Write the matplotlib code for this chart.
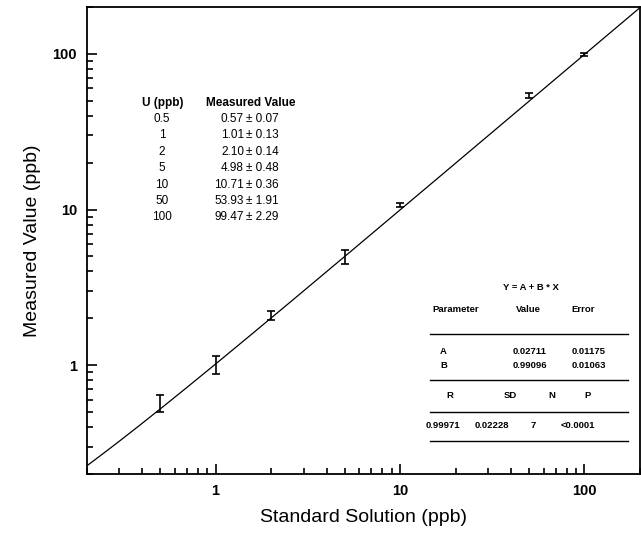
import matplotlib
matplotlib.use("Agg")
import matplotlib.pyplot as plt
import numpy as np

plt.rcParams['font.family'] = ['Liberation Sans', 'DejaVu Sans']

# standard solution concentration (ppb) and measured values
standard = [0.5, 1, 2, 5, 10, 50, 100]
measured = [0.57, 1.01, 2.10, 4.98, 10.71, 53.93, 99.47]
errors = [0.07, 0.13, 0.14, 0.48, 0.36, 1.91, 2.29]

std_labels = ["0.5", "1", "2", "5", "10", "50", "100"]
meas_labels = ["0.57", "1.01", "2.10", "4.98", "10.71", "53.93", "99.47"]
err_labels = ["0.07", "0.13", "0.14", "0.48", "0.36", "1.91", "2.29"]

# linear fit Y = A + B * X
fit_A = 0.02711
fit_B = 0.99096
fit_params = [["A", "0.02711", "0.01175"], ["B", "0.99096", "0.01063"]]
fit_stats = ["0.99971", "0.02228", "7", "<0.0001"]

W, H = 641, 537
fig = plt.figure(figsize=(W / 100, H / 100), dpi=100)
ax = fig.add_axes([86.7 / W, 1 - 474 / H, (640 - 86.7) / W, (474 - 7) / H])


def px(x, y):
    # pixel position in the picture -> figure fraction
    return x / W, 1 - y / H


xs = np.logspace(np.log10(0.2), np.log10(200), 200)
ax.plot(xs, fit_A + fit_B * xs, color="black", lw=0.9)
ax.errorbar(standard, measured, yerr=errors, fmt="none", ecolor="black",
            elinewidth=1.2, capsize=3, capthick=1.2)

ax.set_xscale("log")
ax.set_yscale("log")
ax.set_xlim(0.2, 200)
ax.set_ylim(0.2, 200)
ax.set_xticks([1, 10, 100])
ax.set_xticklabels(["1", "10", "100"])
ax.set_yticks([1, 10, 100])
ax.set_yticklabels(["1", "10", "100"])
ax.tick_params(which="both", direction="in", top=False, right=False, width=1.2)
ax.tick_params(which="major", length=7, labelsize=10.5, pad=7)
ax.tick_params(which="minor", length=4)
for lab in ax.get_xticklabels() + ax.get_yticklabels():
    lab.set_fontweight("bold")
for s in ax.spines.values():
    s.set_linewidth(1.3)

ax.set_xlabel("Standard Solution (ppb)", fontsize=14, labelpad=8)
ax.set_ylabel("Measured Value (ppb)", fontsize=14, labelpad=8)

# left table of measured values
fs = 8.5
fig.text(*px(163, 103), "U (ppb)", ha="center", va="center", fontsize=fs, fontweight="bold")
fig.text(*px(251, 103), "Measured Value", ha="center", va="center", fontsize=fs, fontweight="bold")
for i in range(len(standard)):
    y = 119 + i * 16.4
    fig.text(*px(162, y), std_labels[i], ha="center", va="center", fontsize=fs)
    fig.text(*px(244, y), meas_labels[i], ha="right", va="center", fontsize=fs)
    fig.text(*px(246, y), "\u00b1 " + err_labels[i], ha="left", va="center", fontsize=fs)

# right table of fit results
fs2 = 6.8
fig.text(*px(531, 287), "Y = A + B * X", ha="center", va="center", fontsize=fs2, fontweight="bold")
fig.text(*px(432, 310), "Parameter", ha="left", va="center", fontsize=fs2, fontweight="bold")
fig.text(*px(528, 310), "Value", ha="center", va="center", fontsize=fs2, fontweight="bold")
fig.text(*px(583, 310), "Error", ha="center", va="center", fontsize=fs2, fontweight="bold")
for i, row in enumerate(fit_params):
    y = 351 + i * 15
    fig.text(*px(440, y), row[0], ha="left", va="center", fontsize=fs2, fontweight="bold")
    fig.text(*px(513, y), row[1], ha="left", va="center", fontsize=fs2, fontweight="bold")
    fig.text(*px(572, y), row[2], ha="left", va="center", fontsize=fs2, fontweight="bold")
for x, t in zip([450, 510, 552, 588], ["R", "SD", "N", "P"]):
    fig.text(*px(x, 396), t, ha="center", va="center", fontsize=fs2, fontweight="bold")
for x, t in zip([443, 492, 533, 578], fit_stats):
    fig.text(*px(x, 425), t, ha="center", va="center", fontsize=fs2, fontweight="bold")
for y in [334, 380, 412, 441]:
    x0, yy = px(430, y)
    x1, _ = px(628, y)
    fig.add_artist(plt.Line2D([x0, x1], [yy, yy], color="black", lw=1.0,
                              transform=fig.transFigure))

fig.savefig("out.png", dpi=100)
